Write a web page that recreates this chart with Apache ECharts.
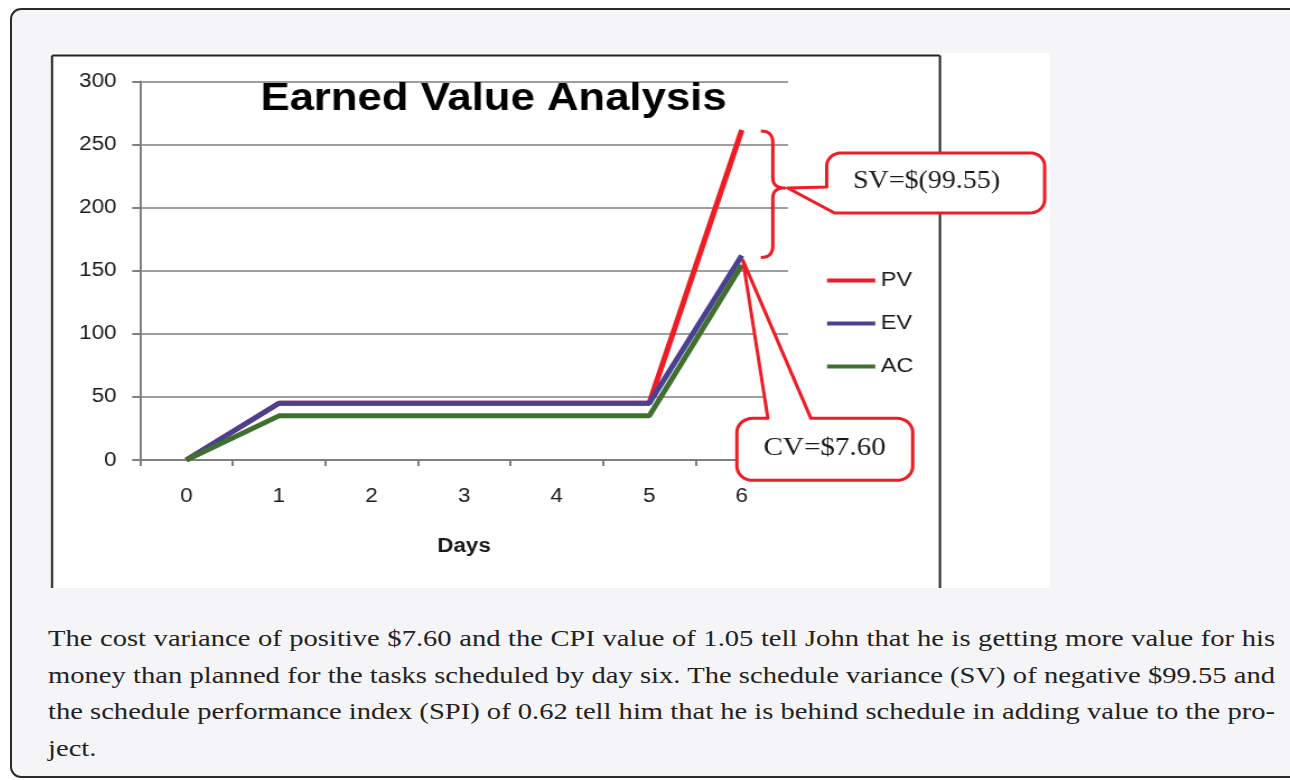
<!DOCTYPE html>
<html>
<head>
<meta charset="utf-8">
<script src="https://cdn.jsdelivr.net/npm/echarts@6/dist/echarts.min.js"></script>
<style>
  html, body { margin: 0; padding: 0; background: #ffffff; width: 1290px; height: 780px; overflow: hidden; }
  .card { position: absolute; left: 10px; top: 8px; width: 1330px; height: 770px; box-sizing: border-box;
          border: 2px solid #2a2a2a; border-radius: 11px; background: #f5f5f7; }
  .sheet { position: absolute; left: 50px; top: 53px; width: 1000px; height: 535px; background: #fff; }
  #chart { position: absolute; left: 50px; top: 53px; width: 893px; height: 535px;
           transform: scaleX(1.12); transform-origin: 0 0; }
  .para { position: absolute; left: 48px; top: 620px; width: 1227px; color: #222; transform-origin: 0 0;
          font-family: 'Liberation Serif', 'Times New Roman', serif; font-size: 24px; line-height: 36.7px; }
  .para .j { display: block; text-align: justify; text-align-last: justify; white-space: nowrap; }
  .para .l { display: block; white-space: nowrap; }
</style>
</head>
<body>
<div class="card"></div>
<div class="sheet"></div>
<div id="chart"></div>
<div class="para" id="para">
  <span class="j">The cost variance of positive $7.60 and the CPI value of 1.05 tell John that he is getting more value for his</span>
  <span class="j">money than planned for the tasks scheduled by day six. The schedule variance (SV) of negative $99.55 and</span>
  <span class="j">the schedule performance index (SPI) of 0.62 tell him that he is behind schedule in adding value to the pro-</span>
  <span class="l">ject.</span>
</div>
<script>
// Days on the x axis and the three earned-value series
const days = ['0', '1', '2', '3', '4', '5', '6'];
const pv = [0, 45, 45, 45, 45, 45, 261.6];
const ev = [0, 45, 45, 45, 45, 45, 162.05];
const ac = [0, 35, 35, 35, 35, 35, 154.45];
const seriesNames = ['PV', 'EV', 'AC'];
const seriesColors = ['#ee1c24', '#4b4192', '#3f7030'];
const chartTitle = 'Earned Value Analysis';
const xAxisName = 'Days';

const RED = '#ee1c24';
const SANS = "Arial, 'Liberation Sans', sans-serif";
const SERIF = "'Liberation Serif', 'Times New Roman', serif";

// Paragraph: scale so the widest justified line just fits the text column
(function fitParagraph() {
  const para = document.getElementById('para');
  let widest = 0;
  para.querySelectorAll('.j').forEach(function (line) {
    const probe = document.createElement('span');
    probe.style.whiteSpace = 'nowrap';
    probe.style.display = 'inline-block';
    probe.textContent = line.textContent;
    para.appendChild(probe);
    widest = Math.max(widest, probe.getBoundingClientRect().width);
    para.removeChild(probe);
  });
  const s = 1227 / widest;
  para.style.width = (1227 / s) + 'px';
  para.style.transform = 'scaleX(' + s + ')';
})();

function money(v) { return (Math.round(Math.abs(v) * 100) / 100).toFixed(2); }
const last = days.length - 1;
const sv = ev[last] - pv[last];
const cv = ev[last] - ac[last];
const svText = 'SV=$' + (sv < 0 ? '(' + money(sv) + ')' : money(sv));
const cvText = 'CV=$' + (cv < 0 ? '(' + money(cv) + ')' : money(cv));

const chart = echarts.init(document.getElementById('chart'), null, { renderer: 'canvas' });

const frame = [
  { id: 'frameL', type: 'line', z: 1, shape: { x1: 1.8, y1: 2.5, x2: 1.8, y2: 535 }, style: { stroke: '#222', lineWidth: 2 } },
  { id: 'frameT', type: 'line', z: 1, shape: { x1: 1.8, y1: 2.5, x2: 794.6, y2: 2.5 }, style: { stroke: '#222', lineWidth: 2 } },
  { id: 'frameR', type: 'line', z: 1, shape: { x1: 794.6, y1: 2.5, x2: 794.6, y2: 535 }, style: { stroke: '#222', lineWidth: 2 } },
  { id: 'title', type: 'text', z: 5,
    style: { text: chartTitle, x: 396, y: 46, fill: '#000', font: 'bold 39px ' + SANS,
             textAlign: 'center', textVerticalAlign: 'middle', verticalAlign: 'middle' } }
];

const option = {
  backgroundColor: 'transparent',
  animation: false,
  grid: { left: 80.4, right: 234, top: 28.5, bottom: 128, containLabel: false },
  legend: {
    orient: 'vertical', left: 693.8, top: 217, padding: 0,
    icon: 'rect', itemWidth: 43, itemHeight: 4, itemGap: 22,
    textStyle: { fontFamily: SANS, fontSize: 21, lineHeight: 21, color: '#1a1a1a', padding: 0 },
    data: seriesNames
  },
  xAxis: {
    type: 'category', data: days, boundaryGap: true,
    name: xAxisName, nameLocation: 'middle', nameGap: 76,
    nameTextStyle: { fontFamily: SANS, fontSize: 20, fontWeight: 'bold', color: '#1a1a1a' },
    axisLine: { lineStyle: { color: '#7f7f7f', width: 2 } },
    axisTick: { show: true, inside: false, length: 6, lineStyle: { color: '#7f7f7f', width: 2 } },
    axisLabel: { fontFamily: SANS, fontSize: 20, color: '#1a1a1a', margin: 26 },
    splitLine: { show: false }
  },
  yAxis: {
    type: 'value', min: 0, max: 300, interval: 50,
    axisLine: { show: true, lineStyle: { color: '#7f7f7f', width: 2 } },
    axisTick: { show: true, inside: false, length: 7, lineStyle: { color: '#7f7f7f', width: 2 } },
    axisLabel: { fontFamily: SANS, fontSize: 20, color: '#1a1a1a', margin: 21 },
    splitLine: { show: true, lineStyle: { color: '#7f7f7f', width: 1.5 } }
  },
  series: [
    { name: seriesNames[0], type: 'line', data: pv, symbol: 'none', color: seriesColors[0], lineStyle: { width: 5, color: seriesColors[0] }, z: 2 },
    { name: seriesNames[1], type: 'line', data: ev, symbol: 'none', color: seriesColors[1], lineStyle: { width: 5, color: seriesColors[1] }, z: 3 },
    { name: seriesNames[2], type: 'line', data: ac, symbol: 'none', color: seriesColors[2], lineStyle: { width: 5, color: seriesColors[2] }, z: 4 }
  ],
  graphic: frame
};
chart.setOption(option);

// ---- annotation geometry helpers ----
function quad(p0, c, p1, n) {
  const pts = [];
  for (let i = 0; i <= n; i++) {
    const t = i / n, u = 1 - t;
    pts.push([u * u * p0[0] + 2 * u * t * c[0] + t * t * p1[0], u * u * p0[1] + 2 * u * t * c[1] + t * t * p1[1]]);
  }
  return pts;
}
function arc(cx, cy, r, a0, a1, n) {
  const pts = [];
  for (let i = 0; i <= n; i++) {
    const a = (a0 + (a1 - a0) * i / n) * Math.PI / 180;
    pts.push([cx + r * Math.cos(a), cy + r * Math.sin(a)]);
  }
  return pts;
}

// Annotations anchored to the last day's points
const pPV = chart.convertToPixel({ seriesIndex: 0 }, [last, pv[last]]);
const pEV = chart.convertToPixel({ seriesIndex: 1 }, [last, ev[last]]);
const pAC = chart.convertToPixel({ seriesIndex: 2 }, [last, ac[last]]);

// Curly brace spanning PV down to EV
const bx = pPV[0] + 17, yTop = pPV[1] + 1, yBot = pEV[1] + 2;
const ym = yTop + (yBot - yTop) * 0.45;
const bw = 10.7;
const bracePts = [].concat(
  quad([bx, yTop], [bx + bw, yTop], [bx + bw, yTop + 12], 8),
  quad([bx + bw, ym - 10], [bx + bw, ym], [bx + 2 * bw, ym], 8),
  quad([bx + 2 * bw, ym], [bx + bw, ym], [bx + bw, ym + 10], 8),
  quad([bx + bw, yBot - 12], [bx + bw, yBot], [bx, yBot], 8)
);

// SV callout: rounded box with a wedge pointing back at the brace
const st = [bx + 24, ym];
const sL = st[0] + 34.8, sT = st[1] - 35, sR = sL + 194.6, sB = sT + 60, sr = 13;
const svPts = [].concat(
  [[sL + sr, sT]],
  arc(sR - sr, sT + sr, sr, 270, 360, 10),
  arc(sR - sr, sB - sr, sr, 0, 90, 10),
  [[sL + 7, sB], st, [sL, st[1] - 1]],
  arc(sL + sr, sT + sr, sr, 180, 270, 10)
);

// CV callout: rounded box with a wedge rising to EV/AC on the last day
const ct = [pEV[0] + 1, (pEV[1] + pAC[1]) / 2];
const cL = ct[0] - 5.4, cT = ct[1] + 158, cR = cL + 157, cB = cT + 62, cr = 14;
const cvPts = [].concat(
  [[cL + cr, cT], [ct[0] + 22.3, cT], ct, [ct[0] + 60.7, cT]],
  arc(cR - cr, cT + cr, cr, 270, 360, 10),
  arc(cR - cr, cB - cr, cr, 0, 90, 10),
  arc(cL + cr, cB - cr, cr, 90, 180, 10),
  arc(cL + cr, cT + cr, cr, 180, 270, 10)
);

chart.setOption({
  graphic: frame.concat([
    { id: 'brace', type: 'polyline', z: 10, shape: { points: bracePts },
      style: { fill: null, stroke: RED, lineWidth: 3, lineJoin: 'round' } },
    { id: 'svBox', type: 'polygon', z: 10, shape: { points: svPts },
      style: { fill: '#ffffff', stroke: RED, lineWidth: 3, lineJoin: 'round' } },
    { id: 'svText', type: 'text', z: 11,
      style: { text: svText, x: st[0] + 124, y: st[1] - 6, fill: '#1a1a1a', font: '25px ' + SERIF,
               textAlign: 'center', textVerticalAlign: 'middle', verticalAlign: 'middle' } },
    { id: 'cvBox', type: 'polygon', z: 10, shape: { points: cvPts },
      style: { fill: '#ffffff', stroke: RED, lineWidth: 3, lineJoin: 'round' } },
    { id: 'cvText', type: 'text', z: 11,
      style: { text: cvText, x: ct[0] + 73, y: ct[1] + 188, fill: '#1a1a1a', font: '26px ' + SERIF,
               textAlign: 'center', textVerticalAlign: 'middle', verticalAlign: 'middle' } }
  ])
});
</script>
</body>
</html>
